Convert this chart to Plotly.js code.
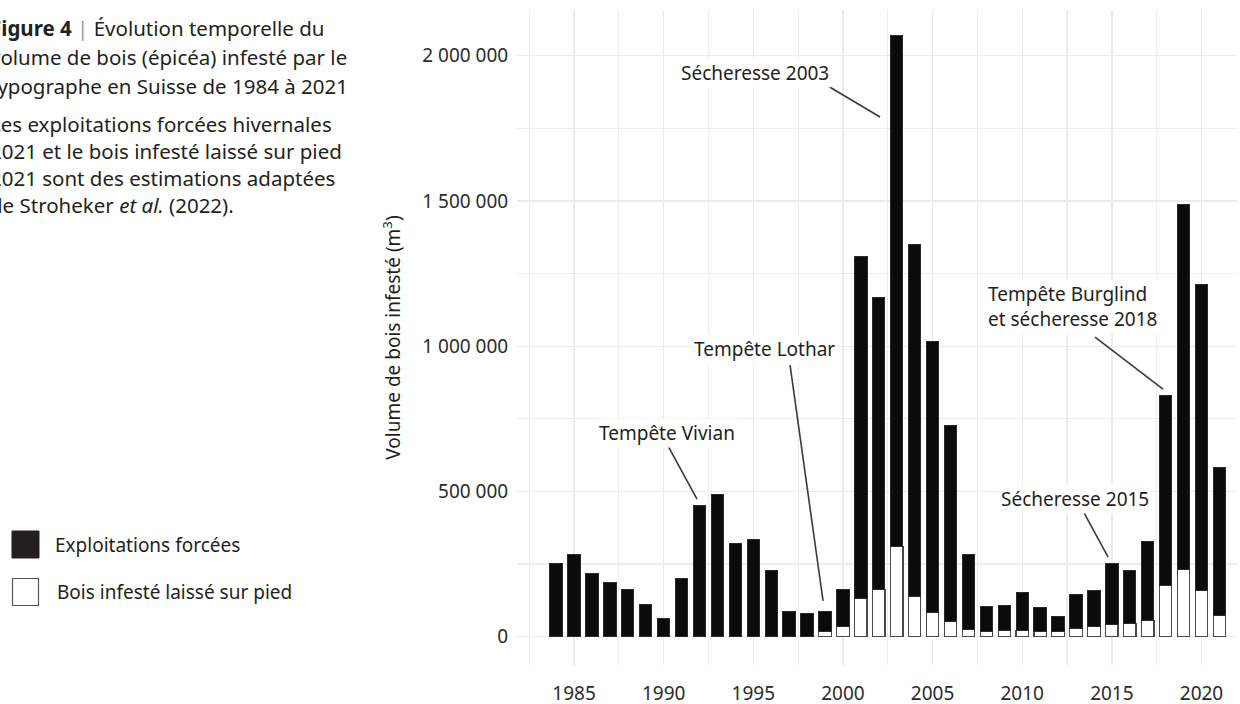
<!DOCTYPE html>
<html><head><meta charset="utf-8">
<script src="https://cdn.plot.ly/plotly-3.0.1.min.js"></script>
<style>html,body{margin:0;padding:0;background:#fff;overflow:hidden}#chart{width:1240px;height:704px}</style>
</head><body><div id="chart"></div>
<script>
// ---- data ----
const years = [1984,1985,1986,1987,1988,1989,1990,1991,1992,1993,1994,1995,1996,1997,1998,1999,2000,2001,2002,2003,2004,2005,2006,2007,2008,2009,2010,2011,2012,2013,2014,2015,2016,2017,2018,2019,2020,2021];
const exploitationsForcees = [253000,284000,216000,188000,162000,111000,62000,201000,451000,489000,322000,336000,228000,86000,80000,69000,130000,1176000,1004000,1760000,1209000,930000,676000,259000,87000,84000,129000,81000,53000,119000,124000,210000,182000,272000,653000,1257000,1054000,509000];
const boisSurPied = [0,0,0,0,0,0,0,0,0,0,0,0,0,0,0,17000,34000,132000,163000,310000,140000,85000,51000,25000,18000,22000,22000,18000,18000,28000,35000,43000,46000,55000,177000,231000,159000,74000];
const seriesNames = ['Exploitations forcées','Bois infesté laissé sur pied'];
const yTickVals = [0,500000,1000000,1500000,2000000];
const yTickText = ['0','500 000','1 000 000','1 500 000','2 000 000'];
const xTickVals = [1985,1990,1995,2000,2005,2010,2015,2020];
const xTickText = ['1985','1990','1995','2000','2005','2010','2015','2020'];
const yTitle = 'Volume de bois infesté (m<sup>3</sup>)';
const eventLabels = ['Sécheresse 2003','Tempête Lothar','Tempête Vivian','Sécheresse 2015','Tempête Burglind<br>et sécheresse 2018'];
const captionLines = [
  "<b>Figure 4</b> <span style='color:#9a9a9a'>|</span> Évolution temporelle du",
  "volume de bois (épicéa) infesté par le",
  "typographe en Suisse de 1984 à 2021",
  "Les exploitations forcées hivernales",
  "2021 et le bois infesté laissé sur pied",
  "2021 sont des estimations adaptées",
  "de Stroheker <i>et al.</i> (2022)."
];

// ---- layout helpers (pixel -> paper) ----
const W = 1240, H = 704;
const M = {l: 517, r: 3, t: 10, b: 39};
const PW = W - M.l - M.r, PH = H - M.t - M.b;
const px = x => (x - M.l) / PW;
const py = y => (H - M.b - y) / PH;

const FONT = 'Noto Sans, Open Sans, sans-serif';
const TXT = '#231f20';
const OUTLINE = '#4a4a4a';

const traces = [
  {type: 'bar', x: years, y: boisSurPied, name: seriesNames[1], width: 0.69,
   marker: {color: '#ffffff', line: {color: OUTLINE, width: 1.2}}, showlegend: false, hoverinfo: 'x+y+name'},
  {type: 'bar', x: years, y: exploitationsForcees, name: seriesNames[0], width: 0.69,
   marker: {color: '#0b0b0b', line: {color: '#2a2a2a', width: 1}}, showlegend: false, hoverinfo: 'x+y+name'}
];

const annFont = {family: FONT, size: 19, color: TXT};
const annotations = [
  {xref: 'x', yref: 'y', x: 1995.10, y: 1939000, text: eventLabels[0], showarrow: false, font: annFont, bgcolor: '#ffffff', borderpad: 1},
  {xref: 'x', yref: 'y', x: 1995.60, y: 991000, text: eventLabels[1], showarrow: false, font: annFont, bgcolor: '#ffffff', borderpad: 1},
  {xref: 'x', yref: 'y', x: 1990.19, y: 701000, text: eventLabels[2], showarrow: false, font: annFont, bgcolor: '#ffffff', borderpad: 1},
  {xref: 'x', yref: 'y', x: 2012.95, y: 474000, text: eventLabels[3], showarrow: false, font: annFont, bgcolor: '#ffffff', borderpad: 1},
  {xref: 'x', yref: 'y', x: 2007.98, y: 1138000, xanchor: 'left', align: 'left', text: eventLabels[4], showarrow: false, font: annFont, bgcolor: '#ffffff', borderpad: 1}
];
const captionY = [28, 57, 86, 124, 151, 178, 205];
captionLines.forEach((t, i) => annotations.push({
  xref: 'paper', yref: 'paper', x: px(-12), y: py(captionY[i]), xanchor: 'left', yanchor: 'middle',
  text: t, showarrow: false, font: {family: FONT, size: 20.5, color: TXT}
}));
// legend text
annotations.push({xref: 'paper', yref: 'paper', x: px(53), y: py(545), xanchor: 'left', yanchor: 'middle',
  text: seriesNames[0], showarrow: false, font: {family: FONT, size: 19, color: TXT}});
annotations.push({xref: 'paper', yref: 'paper', x: px(55), y: py(592), xanchor: 'left', yanchor: 'middle',
  text: seriesNames[1], showarrow: false, font: {family: FONT, size: 19, color: TXT}});

const lineStyle = {color: '#3a3a3a', width: 1.6};
const shapes = [
  {type: 'line', xref: 'x', yref: 'y', x0: 1998.67, y0: 1914000, x1: 2002.07, y1: 1789000, line: lineStyle},
  {type: 'line', xref: 'x', yref: 'y', x0: 1997.05, y0: 935000, x1: 1998.89, y1: 123000, line: lineStyle},
  {type: 'line', xref: 'x', yref: 'y', x0: 1990.25, y0: 656000, x1: 1991.86, y1: 474000, line: lineStyle},
  {type: 'line', xref: 'x', yref: 'y', x0: 2013.45, y0: 426000, x1: 2014.79, y1: 274000, line: lineStyle},
  {type: 'line', xref: 'x', yref: 'y', x0: 2014.06, y0: 1031000, x1: 2017.85, y1: 852000, line: lineStyle},
  // legend swatches
  {type: 'rect', xref: 'paper', yref: 'paper', x0: px(12), x1: px(39), y0: py(558), y1: py(531),
   fillcolor: '#231f20', line: {color: '#231f20', width: 1}},
  {type: 'rect', xref: 'paper', yref: 'paper', x0: px(12.5), x1: px(38.5), y0: py(605.5), y1: py(578.5),
   fillcolor: '#ffffff', line: {color: '#555555', width: 1.2}}
];

const layout = {
  width: W, height: H,
  margin: M,
  paper_bgcolor: '#ffffff', plot_bgcolor: '#ffffff',
  barmode: 'stack', bargap: 0.3,
  showlegend: false,
  font: {family: FONT, color: TXT},
  xaxis: {
    range: [1981.82, 2021.98], tickmode: 'array', tickvals: xTickVals, ticktext: xTickText,
    showgrid: true, gridcolor: '#ebebeb', gridwidth: 1.3, zeroline: false, showline: false,
    ticks: 'outside', ticklen: 11, tickcolor: 'rgba(0,0,0,0)',
    tickfont: {family: FONT, size: 19, color: '#2b2b2b'},
    minor: {tickmode: 'linear', tick0: 1982.5, dtick: 2.5, showgrid: true, gridcolor: '#ededed', gridwidth: 1.2, ticks: ''},
    fixedrange: true
  },
  yaxis: {
    range: [-97400, 2157500], tickmode: 'array', tickvals: yTickVals, ticktext: yTickText,
    showgrid: true, gridcolor: '#ebebeb', gridwidth: 1.3, zeroline: false, showline: false,
    ticks: 'outside', ticklen: 4, tickcolor: 'rgba(0,0,0,0)',
    tickfont: {family: FONT, size: 19, color: '#2b2b2b'},
    minor: {tickmode: 'linear', tick0: 0, dtick: 250000, showgrid: true, gridcolor: '#ededed', gridwidth: 1.2, ticks: ''},
    title: {text: yTitle, font: {family: FONT, size: 19, color: TXT}, standoff: 16},
    automargin: false, fixedrange: true
  },
  annotations: annotations,
  shapes: shapes
};

Plotly.newPlot('chart', traces, layout, {displayModeBar: false, staticPlot: true});
</script>
</body></html>
